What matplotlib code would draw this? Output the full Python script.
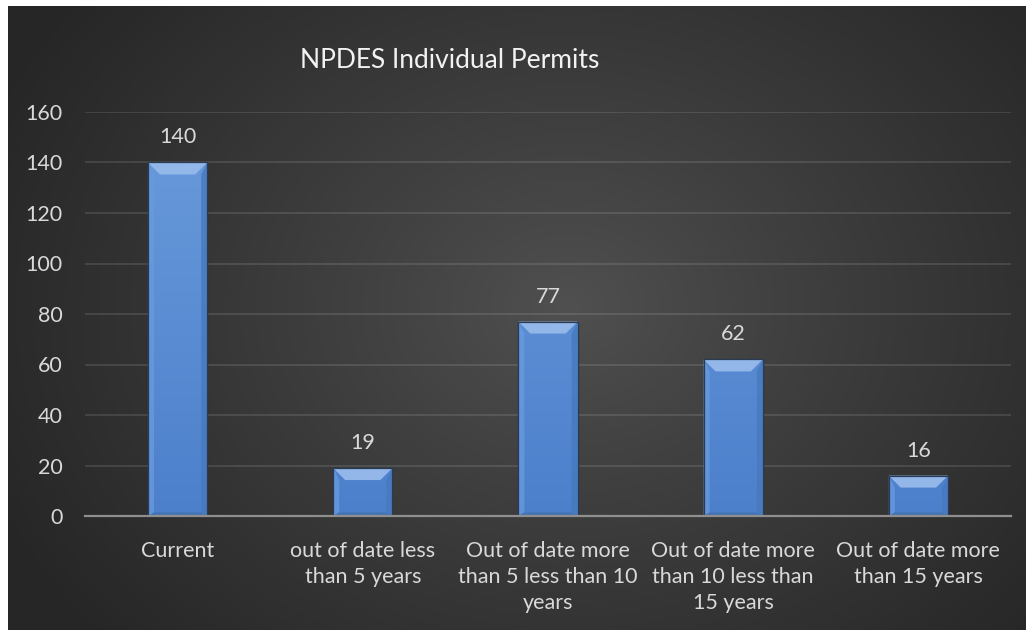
import numpy as np
import matplotlib
matplotlib.use("Agg")
import matplotlib.pyplot as plt
from matplotlib.patches import Polygon
from matplotlib.colors import LinearSegmentedColormap

categories = ["Current",
              "out of date less\nthan 5 years",
              "Out of date more\nthan 5 less than 10\nyears",
              "Out of date more\nthan 10 less than\n15 years",
              "Out of date more\nthan 15 years"]
values = [140, 19, 77, 62, 16]
yticks = [0, 20, 40, 60, 80, 100, 120, 140, 160]
title = "NPDES Individual Permits"

FONT = ["Lato", "DejaVu Sans"]
plt.rcParams['font.family'] = FONT
TXT = "#d9d9d9"
FS = 15.5

W, H = 1028, 630
fig = plt.figure(figsize=(W / 100, H / 100), dpi=100)
fig.patch.set_facecolor("white")

# background with radial gradient
bx0, bx1, by0, by1 = 8, 1026, 6, 630
bg = fig.add_axes([bx0 / W, 1 - by1 / H, (bx1 - bx0) / W, (by1 - by0) / H], zorder=0)
nx, ny = bx1 - bx0, by1 - by0
yy, xx = np.mgrid[0:ny, 0:nx]
cx, cy = 560, 300
r = np.sqrt(((xx - cx) / (nx * 0.62)) ** 2 + ((yy - cy) / (ny * 0.80)) ** 2)
r = np.clip(r, 0, 1)
c = 0.315 - (0.315 - 0.15) * r ** 0.9
img = np.dstack([c, c, c])
bg.imshow(img, aspect="auto", interpolation="bilinear")
bg.set_axis_off()

# main axes
L, R, T, B = 85, 1011, 112, 516
ax = fig.add_axes([L / W, 1 - B / H, (R - L) / W, (B - T) / H], zorder=1)
ax.patch.set_alpha(0)
n = len(categories)
x = np.arange(n)
ax.set_xlim(-0.5, n - 0.5)
ax.set_ylim(0, 160)
ax.set_yticks(yticks)
ax.set_yticklabels([str(t) for t in yticks])
ax.set_xticks(x)
ax.set_xticklabels(categories, linespacing=1.36)
ax.grid(axis="y", color="white", alpha=0.13, linewidth=1.2, zorder=0)
ax.set_axisbelow(True)
for s in ["top", "left", "right"]:
    ax.spines[s].set_visible(False)
ax.spines["bottom"].set_color("#8f8f8f")
ax.spines["bottom"].set_linewidth(1.6)
ax.spines["bottom"].set_zorder(5)
ax.tick_params(axis="both", length=0, colors=TXT, labelsize=FS)
ax.tick_params(axis="y", pad=16)
ax.tick_params(axis="x", pad=18)

bw = 0.32
bars = ax.bar(x, values, width=bw, color="#5b8ed4", edgecolor="#2b3b53",
              linewidth=0.9, zorder=3)

# vertical gradient on bar faces
face_cmap = LinearSegmentedColormap.from_list("face", ["#4c80cb", "#6a9bdc"])
grad = np.linspace(0, 1, 256).reshape(-1, 1)
for rect in bars:
    x0, y0 = rect.get_x(), rect.get_y()
    im = ax.imshow(grad, cmap=face_cmap, origin="lower", aspect="auto",
                   extent=[x0, x0 + rect.get_width(), 0, 160], zorder=3.2,
                   interpolation="bilinear")
    im.set_clip_path(rect)
ax.set_xlim(-0.5, n - 0.5)
ax.set_ylim(0, 160)

# bevel effect
px_x = (R - L) / n
px_y = (B - T) / 160
d = 12
dx, dy = d / px_x, d / px_y
for xi, v in zip(x, values):
    x0, x1 = xi - bw / 2, xi + bw / 2
    y0, y1 = 0, v
    s = 0.5
    top = Polygon([(x0, y1), (x1, y1), (x1 - dx, y1 - dy), (x0 + dx, y1 - dy)],
                  closed=True, facecolor="#93b7e9", edgecolor="none", zorder=4)
    left = Polygon([(x0, y1), (x0 + dx * s, y1 - dy), (x0 + dx * s, y0 + dy * 0.3), (x0, y0)],
                   closed=True, facecolor="#679ade", edgecolor="none", zorder=4, alpha=0.8)
    right = Polygon([(x1, y1), (x1 - dx * s, y1 - dy), (x1 - dx * s, y0 + dy * 0.3), (x1, y0)],
                    closed=True, facecolor="#4779be", edgecolor="none", zorder=4, alpha=0.8)
    bottom = Polygon([(x0, y0), (x1, y0), (x1 - dx * s, y0 + dy * 0.3), (x0 + dx * s, y0 + dy * 0.3)],
                     closed=True, facecolor="#4574b3", edgecolor="none", zorder=4)
    for p in (top, left, right, bottom):
        ax.add_patch(p)
    ax.add_patch(Polygon([(x0, y0), (x0, y1), (x1, y1), (x1, y0)], closed=True,
                         facecolor="none", edgecolor="#2b3b53", linewidth=0.9, zorder=4.5))
    ax.annotate(str(v), (xi, v), xytext=(0, 18), textcoords="offset points",
                ha="center", va="center", color=TXT, fontsize=FS)

fig.text(450 / W, 1 - 60 / H, title, ha="center", va="center", color="#f2f2f2", fontsize=19)

fig.savefig("out.png", dpi=100, facecolor=fig.get_facecolor())
